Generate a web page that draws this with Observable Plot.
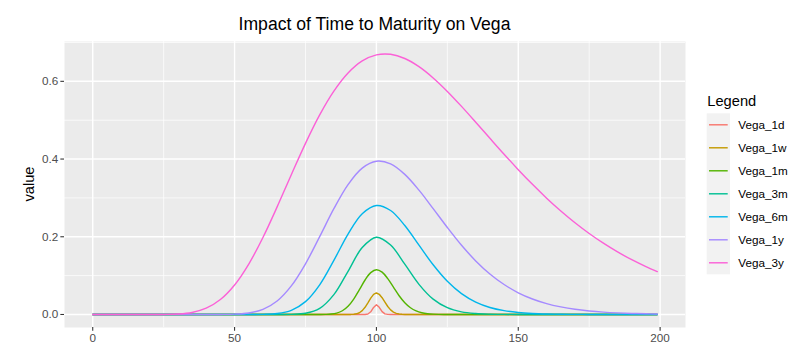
<!DOCTYPE html>
<html><head><meta charset="utf-8">
<script src="https://cdn.jsdelivr.net/npm/d3@7"></script>
<script src="https://cdn.jsdelivr.net/npm/@observablehq/plot@0.6"></script>
<style>
body{margin:0;background:#fff;}
#wrap{position:relative;width:806px;height:352px;font-family:"Liberation Sans",Arial,Helvetica,sans-serif;overflow:hidden;}
#wrap svg{position:absolute;left:0;top:0;}
</style></head><body><div id="wrap"></div>
<script>
const chartTitle = "Impact of Time to Maturity on Vega";
const yTitle = "value";
const legendTitle = "Legend";
const seriesNames = ["Vega_1d","Vega_1w","Vega_1m","Vega_3m","Vega_6m","Vega_1y","Vega_3y"];
const seriesColors = ["#F8766D","#C49A00","#53B400","#00C094","#00B6EB","#A58AFF","#FB61D7"];
const xTicks = [0,50,100,150,200];
const xMinor = [25,75,125,175];
const yTicks = [0,0.2,0.4,0.6];
const yTickLabels = ["0.0","0.2","0.4","0.6"];
const yMinor = [0.1,0.3,0.5,0.7];

// spot grid for the wide curves
const xWide = [0,5,10,15,20,25,30,35,40,45,50,55,60,65,70,75,80,85,90,95,100,105,110,115,120,125,130,135,140,145,150,155,160,165,170,175,180,185,190,195,199];
const vega3y = [0,0,0,0,0.00001,0.00016,0.00118,0.0052,0.0161,0.0384,0.0759,0.1298,0.1982,0.2769,0.3597,0.4404,0.5135,0.5746,0.6213,0.6524,0.6681,0.6696,0.6588,0.6378,0.6088,0.5741,0.5355,0.4948,0.4534,0.4124,0.3727,0.3349,0.2993,0.2663,0.2360,0.2084,0.1834,0.1610,0.1409,0.1231,0.1103];
const vega1y = [0,0,0,0,0,0,0,0,0.00001,0.00011,0.00082,0.0039,0.0133,0.0348,0.0736,0.1305,0.2002,0.2722,0.3344,0.3768,0.3944,0.3876,0.3606,0.3200,0.2724,0.2238,0.1781,0.1379,0.1042,0.0771,0.0559,0.0399,0.0280,0.0195,0.0133,0.0091,0.0061,0.0041,0.0027,0.0018,0.0013];
const vega6m = [0,0,0,0,0,0,0,0,0,0,0,0.00003,0.00036,0.0024,0.0107,0.0330,0.0764,0.1392,0.2070,0.2593,0.2805,0.2676,0.2289,0.1783,0.1279,0.0854,0.0536,0.0318,0.0180,0.0098,0.0051,0.0026,0.0013,0.0006,0.0003,0.0001,0.00006,0,0,0,0];
const vega3m = [0,0,0,0,0,0,0,0,0,0,0,0,0,0.00002,0.0003,0.0030,0.0156,0.0510,0.1112,0.1722,0.1989,0.1788,0.1294,0.0776,0.0395,0.0175,0.0068,0.0024,0.00075,0.00022,0.00006,0.00002,0,0,0,0,0,0,0,0,0];
// finer grids for the narrow curves
const x1m = [0,78,80,82,84,86,88,90,92,94,96,98,100,102,104,106,108,110,112,114,116,118,120,122,124,126,199];
const vega1m = [0,0.00001,0.00006,0.0003,0.00115,0.00366,0.00962,0.02123,0.03976,0.06385,0.08876,0.1077,0.1151,0.1090,0.09224,0.07013,0.04822,0.03015,0.01723,0.00904,0.00438,0.00197,0.00082,0.00032,0.00012,0.00004,0];
const x1w = [0,89,90,91,92,93,94,95,96,97,98,99,100,101,102,103,104,105,106,107,108,109,110,111,112,199];
const vega1w = [0,0.00001,0.00004,0.00017,0.00059,0.00177,0.00452,0.00988,0.01854,0.03004,0.04222,0.05167,0.05532,0.05200,0.04309,0.03158,0.02055,0.01192,0.00618,0.00287,0.0012,0.00045,0.00015,0.00005,0.00001,0];
const x1d = [0,95,96,97,98,99,100,101,102,103,104,105,199];
const vega1d = [0,0.00001,0.00013,0.00134,0.00692,0.01824,0.02513,0.01844,0.00735,0.00161,0.0002,0.00001,0];

const seriesX = [x1d, x1w, x1m, xWide, xWide, xWide, xWide];
const seriesY = [vega1d, vega1w, vega1m, vega3m, vega6m, vega1y, vega3y];
const curveFor = ["linear","linear","catmull-rom","catmull-rom","catmull-rom","catmull-rom","catmull-rom"];

const tables = seriesNames.map((name, k) => seriesX[k].map((x, i) => ({series: name, x, value: seriesY[k][i]})));

const W = 806, H = 352;
const mL = 64, mR = 121, mT = 41, mB = 25;
const lineW = 1.42;

const chart = Plot.plot({
  width: W, height: H,
  marginLeft: mL, marginRight: mR, marginTop: mT, marginBottom: mB,
  style: {fontFamily: '"Liberation Sans",Arial,Helvetica,sans-serif', fontSize: "11.7px", color: "#4D4D4D", background: "transparent", overflow: "visible"},
  x: {domain: [-9.95, 208.95]},
  y: {domain: [-0.0335, 0.7025]},
  color: {domain: seriesNames, range: seriesColors},
  marks: [
    Plot.frame({fill: "#EBEBEB", stroke: null}),
    Plot.gridX(xMinor, {stroke: "white", strokeOpacity: 1, strokeWidth: 0.71}),
    Plot.gridY(yMinor, {stroke: "white", strokeOpacity: 1, strokeWidth: 0.71}),
    Plot.gridX(xTicks, {stroke: "white", strokeOpacity: 1, strokeWidth: 1.42}),
    Plot.gridY(yTicks, {stroke: "white", strokeOpacity: 1, strokeWidth: 1.42}),
    ...tables.map((t, k) => Plot.line(t, {x: "x", y: "value", stroke: "series", strokeWidth: lineW, curve: curveFor[k]})),
    Plot.axisX(xTicks, {tickSize: 3.66, tickPadding: 3, stroke: "#333333", strokeWidth: 1.07, fill: "#4D4D4D", fontSize: 11.7, label: null, tickFormat: d => String(d)}),
    Plot.axisY(yTicks, {tickSize: 3.66, tickPadding: 2.6, stroke: "#333333", strokeWidth: 1.07, fill: "#4D4D4D", fontSize: 11.7, label: null, tickFormat: d => yTickLabels[yTicks.indexOf(d)]})
  ]
});
const wrap = document.getElementById("wrap");
wrap.appendChild(chart);

// overlay: title, axis title, legend
const ov = d3.select(wrap).append("svg").attr("width", W).attr("height", H)
  .style("font-family", '"Liberation Sans",Arial,Helvetica,sans-serif');
const panelCx = mL + (W - mL - mR) / 2;
const panelCy = mT + (H - mT - mB) / 2;
ov.append("text").attr("x", panelCx).attr("y", 29.5).attr("text-anchor", "middle")
  .attr("font-size", 17.6).attr("fill", "#000").text(chartTitle);
ov.append("text").attr("transform", `translate(33.5,${panelCy}) rotate(-90)`).attr("text-anchor", "middle")
  .attr("font-size", 14.67).attr("fill", "#000").text(yTitle);

const lgX = 706.7, lgY = 113.3, keyW = 23.3, keyH = 23;
ov.append("text").attr("x", 707.3).attr("y", 106).attr("font-size", 14.67).attr("fill", "#000").text(legendTitle);
ov.append("rect").attr("x", lgX).attr("y", lgY).attr("width", keyW).attr("height", keyH * seriesNames.length).attr("fill", "#F2F2F2");
seriesNames.forEach((name, i) => {
  const cy = lgY + keyH / 2 + keyH * i;
  ov.append("line").attr("x1", lgX + 2.3).attr("x2", lgX + keyW - 2.3).attr("y1", cy).attr("y2", cy)
    .attr("stroke", seriesColors[i]).attr("stroke-width", lineW);
  ov.append("text").attr("x", 738.3).attr("y", cy + 4.3).attr("font-size", 11.7).attr("fill", "#000").text(name);
});
</script>
</body></html>
